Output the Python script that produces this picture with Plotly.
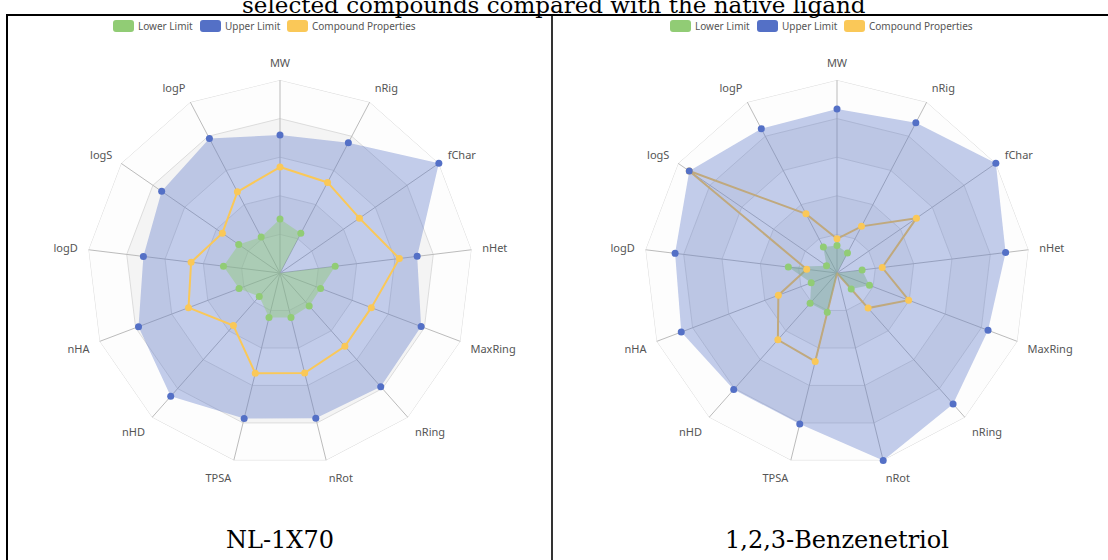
import plotly.graph_objects as go

W, H = 1108, 560

# ---------------- data ----------------
indicators = ["MW", "logP", "logS", "logD", "nHA", "nHD", "TPSA",
              "nRot", "nRing", "MaxRing", "nHet", "fChar", "nRig"]

# values read as % of each axis' maximum
nl_lower = [28, 21, 26, 29.5, 22.7, 16.2, 23.8, 23.8, 22.8, 22.5, 28.8, 0, 23.2]
nl_upper = [71.5, 78.7, 74.5, 71.3, 78.4, 85.4, 77.6, 77.5, 78.7, 78.2, 71.6, 100, 76.2]
nl_compound = [54.9, 47.5, 36.3, 46.4, 50.7, 36.4, 53.5, 53.4, 50.7, 50.6, 62.3, 50, 53]

bt_lower = [14.3, 15.2, 6.6, 25.4, 14.3, 21, 21, 0, 11.1, 18, 13.1, 0, 11.7]
bt_upper = [85, 84.4, 93, 84.5, 86.3, 80.7, 80.6, 100, 90.7, 83.7, 88, 100, 87.9]
bt_compound = [17.7, 34.6, 93, 15.8, 32.5, 46.2, 47.2, 0, 24.3, 39.7, 23.6, 50, 27.3]

series_names = ["Lower Limit", "Upper Limit", "Compound Properties"]
panel_titles = ["NL-1X70", "1,2,3-Benzenetriol"]
main_title = "selected compounds compared with the native ligand"
split_levels = [100, 80, 60, 40, 20]

# ---------------- styles ----------------
C_LOW = "#91cc75"
C_UP = "#5470c6"
C_CMP = "#fac858"
FILL_LOW = "rgba(145,204,117,0.45)"
FILL_UP = "rgba(84,112,198,0.35)"
BAND = ["#fdfdfd", "#f4f4f4"]
LBL_FONT = dict(family="Noto Sans, Open Sans, sans-serif", size=11, color="#555")
LEG_FONT = dict(family="Noto Sans, Open Sans, sans-serif", size=10, color="#555")
SERIF = "DejaVu Serif, Liberation Serif, serif"


def close(seq):
    return list(seq) + [seq[0]]


theta_c = close(indicators)

fig = go.Figure()


def add_panel(pid, lower, upper, comp, compound_under):
    sp = "polar" if pid == 1 else "polar2"
    # background split areas (outer to inner)
    for i, lv in enumerate(split_levels):
        fig.add_trace(go.Scatterpolar(
            r=[lv] * len(theta_c), theta=theta_c, mode="lines", fill="toself",
            fillcolor=BAND[i % 2], line=dict(width=0), hoverinfo="skip",
            showlegend=False, subplot=sp))
    # rings
    rr, tt = [], []
    for lv in split_levels:
        rr += [lv] * len(theta_c) + [None]
        tt += theta_c + [None]
    fig.add_trace(go.Scatterpolar(r=rr, theta=tt, mode="lines",
                                  line=dict(color="#dcdcdc", width=1),
                                  hoverinfo="skip", showlegend=False, subplot=sp))
    # spokes
    rr, tt = [], []
    for cat in indicators:
        rr += [0, 100, None]
        tt += [cat, cat, None]
    fig.add_trace(go.Scatterpolar(r=rr, theta=tt, mode="lines",
                                  line=dict(color="#bbbbbb", width=1),
                                  hoverinfo="skip", showlegend=False, subplot=sp))

    def fill_trace(vals, fc):
        return go.Scatterpolar(r=close(vals), theta=theta_c, mode="lines",
                               fill="toself", fillcolor=fc, line=dict(width=0),
                               hoverinfo="skip", showlegend=False, subplot=sp)

    def line_trace(vals, col):
        return go.Scatterpolar(r=close(vals), theta=theta_c, mode="lines",
                               line=dict(color=col, width=2),
                               hoverinfo="skip", showlegend=False, subplot=sp)

    def mark_trace(vals, col, name):
        return go.Scatterpolar(r=vals, theta=indicators, mode="markers",
                               marker=dict(color=col, size=7), name=name,
                               showlegend=False, subplot=sp)

    if not compound_under:
        fig.add_trace(fill_trace(upper, FILL_UP))
        fig.add_trace(mark_trace(upper, C_UP, series_names[1]))
        fig.add_trace(fill_trace(lower, FILL_LOW))
        fig.add_trace(mark_trace(lower, C_LOW, series_names[0]))
        fig.add_trace(line_trace(comp, C_CMP))
        fig.add_trace(mark_trace(comp, C_CMP, series_names[2]))
    else:
        fig.add_trace(line_trace(comp, C_CMP))
        fig.add_trace(fill_trace(lower, FILL_LOW))
        fig.add_trace(fill_trace(upper, FILL_UP))
        fig.add_trace(mark_trace(lower, C_LOW, series_names[0]))
        fig.add_trace(mark_trace(comp, C_CMP, series_names[2]))
        fig.add_trace(mark_trace(upper, C_UP, series_names[1]))


add_panel(1, nl_lower, nl_upper, nl_compound, False)
add_panel(2, bt_lower, bt_upper, bt_compound, True)

R = 193
CY = 273
centers = [280, 837]


def polar_layout(cx):
    return dict(
        domain=dict(x=[(cx - R) / W, (cx + R) / W],
                    y=[1 - (CY + R) / H, 1 - (CY - R) / H]),
        gridshape="linear",
        bgcolor="rgba(0,0,0,0)",
        radialaxis=dict(visible=False, range=[0, 100]),
        angularaxis=dict(type="category", categoryarray=indicators,
                         direction="counterclockwise", rotation=90,
                         showline=False, showgrid=False,
                         ticks="outside", ticklen=8, tickcolor="rgba(0,0,0,0)",
                         tickfont=LBL_FONT),
    )


shapes = []
# frame lines
shapes.append(dict(type="line", xref="paper", yref="paper",
                   x0=6 / W, x1=1, y0=1 - 15 / H, y1=1 - 15 / H,
                   line=dict(color="black", width=2)))
shapes.append(dict(type="line", xref="paper", yref="paper",
                   x0=7 / W, x1=7 / W, y0=1 - 14 / H, y1=0,
                   line=dict(color="black", width=2)))
shapes.append(dict(type="line", xref="paper", yref="paper",
                   x0=552 / W, x1=552 / W, y0=1 - 15 / H, y1=0,
                   line=dict(color="black", width=1.6)))


def rrect(x0, y0, x1, y1, rad):
    rx, ry = rad / W, rad / H
    X0, X1 = x0 / W, x1 / W
    Y0, Y1 = 1 - y0 / H, 1 - y1 / H  # Y0 top, Y1 bottom
    return (f"M{X0+rx},{Y0} L{X1-rx},{Y0} Q{X1},{Y0} {X1},{Y0-ry} "
            f"L{X1},{Y1+ry} Q{X1},{Y1} {X1-rx},{Y1} L{X0+rx},{Y1} "
            f"Q{X0},{Y1} {X0},{Y1+ry} L{X0},{Y0-ry} Q{X0},{Y0} {X0+rx},{Y0} Z")


annotations = []
legend_cols = [C_LOW, C_UP, C_CMP]
legend_x = [113, 200, 287]
for pi, cx in enumerate(centers):
    off = cx - centers[0]
    for name, col, lx in zip(series_names, legend_cols, legend_x):
        x0 = lx + off
        shapes.append(dict(type="path", xref="paper", yref="paper",
                           path=rrect(x0, 20, x0 + 21, 32, 3),
                           fillcolor=col, line=dict(width=0)))
        annotations.append(dict(text=name, x=(x0 + 23) / W, y=1 - 26 / H,
                                xref="paper", yref="paper", xanchor="left",
                                yanchor="middle", showarrow=False,
                                font=LEG_FONT))
    annotations.append(dict(text=panel_titles[pi], x=cx / W, y=1 - 540 / H,
                            xref="paper", yref="paper", xanchor="center",
                            yanchor="middle", showarrow=False,
                            font=dict(family=SERIF, size=24, color="black")))

annotations.append(dict(text=main_title, x=554 / W, y=1 - 20 / H,
                        xref="paper", yref="paper", xanchor="center",
                        yanchor="bottom", showarrow=False,
                        font=dict(family=SERIF, size=23, color="black")))

fig.update_layout(
    width=W, height=H, autosize=False,
    margin=dict(l=0, r=0, t=0, b=0),
    paper_bgcolor="white", plot_bgcolor="white",
    polar=polar_layout(centers[0]),
    polar2=polar_layout(centers[1]),
    shapes=shapes, annotations=annotations,
    showlegend=False,
)

fig.write_html("out.html",
               config={"displayModeBar": False},
               post_script="document.body.style.margin='0px';"
                           "document.body.style.padding='0px';")
